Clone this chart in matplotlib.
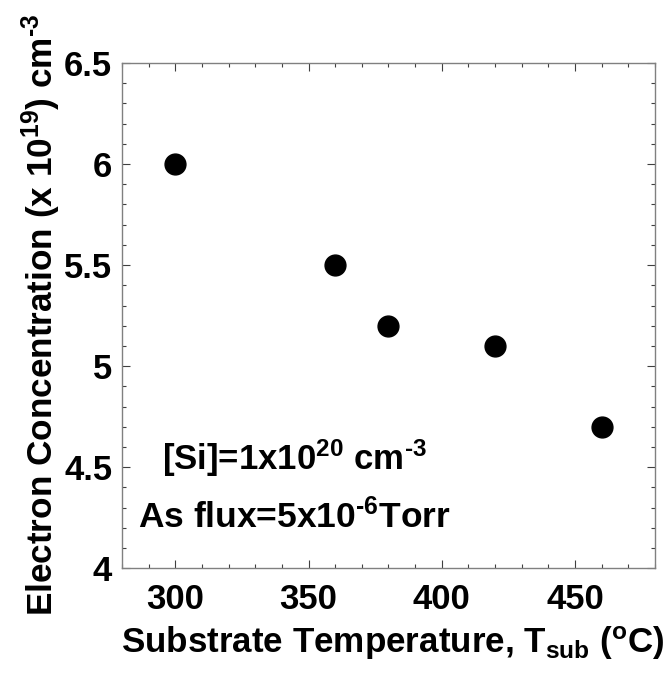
import matplotlib
matplotlib.use("Agg")
import matplotlib.pyplot as plt
from matplotlib.ticker import MultipleLocator, FuncFormatter

# =========================
# DATA
# =========================
substrate_temp = [300, 360, 380, 420, 460]
electron_conc = [6.0, 5.5, 5.2, 5.1, 4.7]

x_ticks = [300, 350, 400, 450]
y_ticks = [4.0, 4.5, 5.0, 5.5, 6.0, 6.5]

si_label = r"[Si]=1x10$^{20}$ cm$^{\text{-}3}$"
flux_label = r"As flux=5x10$^{\text{-}6}$Torr"

# =========================
# STYLE
# =========================
plt.rcParams["font.family"] = ["Liberation Sans", "DejaVu Sans"]
plt.rcParams["font.weight"] = "bold"
plt.rcParams["mathtext.fontset"] = "custom"
plt.rcParams["mathtext.rm"] = "Liberation Sans:bold"
plt.rcParams["mathtext.it"] = "Liberation Sans:bold"
plt.rcParams["mathtext.bf"] = "Liberation Sans:bold"
plt.rcParams["mathtext.default"] = "rm"

SPINE_COLOR = "#808080"
TICK_COLOR = "#404040"


def fmt_tick(v, pos):
    return f"{v:g}"


fig = plt.figure(figsize=(6.7, 6.78), dpi=100)
ax = fig.add_axes([0.182, 0.162, 0.7956, 0.745])

ax.plot(substrate_temp, electron_conc, linestyle="none", marker="o",
        markersize=15, color="black")

ax.set_xlim(280, 480)
ax.set_ylim(4, 6.5)
ax.set_xticks(x_ticks)
ax.set_yticks(y_ticks)
ax.xaxis.set_minor_locator(MultipleLocator(10))
ax.yaxis.set_minor_locator(MultipleLocator(0.1))
ax.yaxis.set_major_formatter(FuncFormatter(fmt_tick))

for side in ax.spines.values():
    side.set_color(SPINE_COLOR)
    side.set_linewidth(1.0)

ax.tick_params(which="both", direction="in", top=True, right=True,
               color=TICK_COLOR, width=0.8)
ax.tick_params(which="major", length=6)
ax.tick_params(which="minor", length=3)
ax.tick_params(axis="x", which="major", labelsize=25, pad=11)
ax.tick_params(axis="y", which="major", labelsize=25, pad=7)

ax.set_xlabel(r"Substrate Temperature, T$_{\mathrm{sub}}$ ($^{\mathrm{o}}$C)",
              fontsize=25.2, fontweight="bold")
ax.set_ylabel(r"Electron Concentration (x 10$^{19}$) cm$^{\text{-}3}$",
              fontsize=25.3, fontweight="bold")
ax.xaxis.set_label_coords(0.508, -0.112)
ax.yaxis.set_label_coords(-0.11, 0.502)

ax.text(295, 4.485, si_label, fontsize=25, fontweight="bold",
        ha="left", va="baseline")
ax.text(286, 4.198, flux_label, fontsize=25.5, fontweight="bold",
        ha="left", va="baseline")

fig.savefig("out.png", dpi=100)
